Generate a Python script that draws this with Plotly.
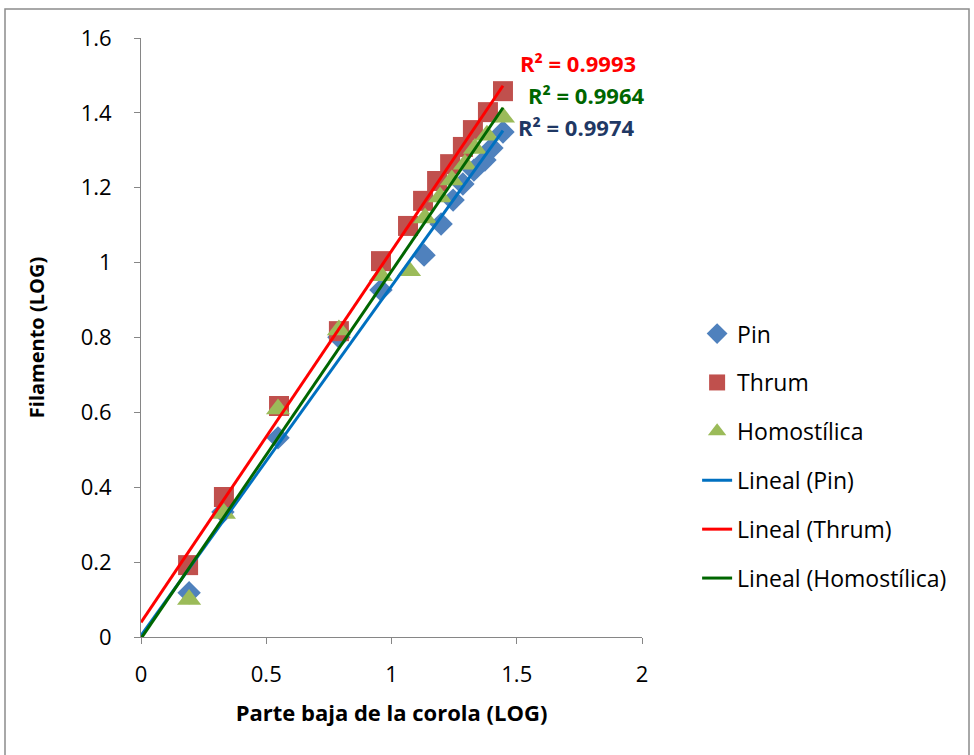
import numpy as np
import plotly.graph_objects as go

# Log-transformed measurements per floral morph
pin_x = [0.192, 0.327, 0.547, 0.790, 0.958, 1.130, 1.198, 1.246, 1.285, 1.329, 1.373, 1.401, 1.445]
pin_y = [0.118, 0.334, 0.532, 0.801, 0.927, 1.020, 1.103, 1.167, 1.210, 1.247, 1.274, 1.306, 1.349]

thrum_x = [0.188, 0.331, 0.551, 0.790, 0.958, 1.066, 1.126, 1.182, 1.234, 1.285, 1.325, 1.385, 1.445]
thrum_y = [0.192, 0.374, 0.617, 0.817, 1.004, 1.098, 1.165, 1.218, 1.263, 1.309, 1.354, 1.402, 1.458]

homo_x = [0.192, 0.331, 0.547, 0.790, 0.958, 1.070, 1.134, 1.194, 1.241, 1.293, 1.333, 1.381, 1.445]
homo_y = [0.100, 0.330, 0.609, 0.820, 0.965, 0.978, 1.119, 1.175, 1.221, 1.263, 1.305, 1.340, 1.388]

r2_labels = ["R² = 0.9974", "R² = 0.9993", "R² = 0.9964"]

FONT = "Open Sans"
fig = go.Figure()

series = [
    ("Pin", pin_x, pin_y, "diamond", "#4F81BD", 18),
    ("Thrum", thrum_x, thrum_y, "square", "#C0504D", 20),
    ("Homostílica", homo_x, homo_y, "triangle-up", "#9BBB59", 21),
]
for i, (name, xs, ys, sym, col, sz) in enumerate(series):
    fig.add_trace(go.Scatter(
        x=xs, y=ys, mode="markers", name=name, legendgroup=f"g{i}",
        marker=dict(symbol=sym, color=col, size=sz, line=dict(width=0)),
    ))

trend_colors = ["#0070C0", "#FF0000", "#006600"]
for i, (name, xs, ys, _, _, _) in enumerate(series):
    slope, icpt = np.polyfit(xs, ys, 1)
    lx = np.array([0.0, max(xs)])
    fig.add_trace(go.Scatter(
        x=lx, y=slope * lx + icpt, mode="lines", name=f"Lineal ({name})",
        legendgroup=f"g{i + 3}",
        line=dict(color=trend_colors[i], width=3),
    ))

# R² labels next to the upper ends of the fitted lines
r2_pos = [(1.737, 1.362, "#1F3864"), (1.745, 1.533, "#FF0000"), (1.776, 1.448, "#006600")]
for txt, (ax_, ay_, c) in zip(r2_labels, r2_pos):
    fig.add_annotation(x=ax_, y=ay_, text=f"<b>{txt}</b>", showarrow=False,
                       font=dict(family=FONT, size=22, color=c))

# Outer chart frame
fig.add_shape(type="rect", xref="paper", yref="paper",
              x0=(5 - 141) / 501, x1=(969 - 141) / 501,
              y0=(637 - 760) / 599, y1=(637 - 9) / 599,
              line=dict(color="#8C8C8C", width=1.5), fillcolor="rgba(0,0,0,0)")

axis_common = dict(showgrid=False, zeroline=False, showline=True, linecolor="#868686",
                   linewidth=1, ticks="outside", ticklen=6, tickcolor="#868686",
                   tickfont=dict(family=FONT, size=22, color="black"))

fig.update_layout(
    width=974, height=755,
    margin=dict(l=141, r=332, t=38, b=118),
    paper_bgcolor="white", plot_bgcolor="white",
    font=dict(family=FONT, color="black"),
    xaxis=dict(range=[0, 2], tickvals=[0, 0.5, 1, 1.5, 2], ticktext=["0", "0.5", "1", "1.5", "2"],
               ticklabelstandoff=12,
               title=dict(text="<b>Parte baja de la corola (LOG)</b>", font=dict(family=FONT, size=22),
                          standoff=18),
               **axis_common),
    yaxis=dict(range=[0, 1.6], tickvals=[0, 0.2, 0.4, 0.6, 0.8, 1, 1.2, 1.4, 1.6],
               ticktext=["0", "0.2", "0.4", "0.6", "0.8", "1", "1.2", "1.4", "1.6"],
               ticklabelstandoff=18,
               title=dict(text="<b>Filamento (LOG)</b>", font=dict(family=FONT, size=20),
                          standoff=30),
               **axis_common),
    legend=dict(x=1.110, xanchor="left", y=0.302, yanchor="middle",
                font=dict(family=FONT, size=23), tracegroupgap=16,
                bgcolor="rgba(0,0,0,0)"),
    showlegend=True,
)

fig.write_html("out.html")
